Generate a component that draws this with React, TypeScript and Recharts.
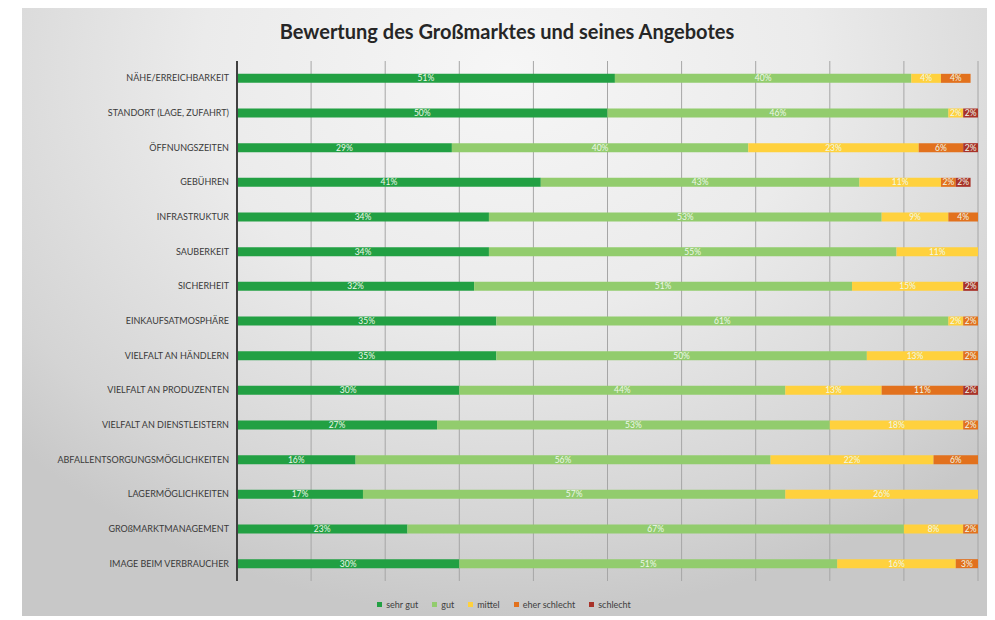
import React from "react";
import { BarChart, Bar, XAxis, YAxis, CartesianGrid, Legend, LabelList } from "recharts";

const categories = [
  "NÄHE/ERREICHBARKEIT",
  "STANDORT (LAGE, ZUFAHRT)",
  "ÖFFNUNGSZEITEN",
  "GEBÜHREN",
  "INFRASTRUKTUR",
  "SAUBERKEIT",
  "SICHERHEIT",
  "EINKAUFSATMOSPHÄRE",
  "VIELFALT AN HÄNDLERN",
  "VIELFALT AN PRODUZENTEN",
  "VIELFALT AN DIENSTLEISTERN",
  "ABFALLENTSORGUNGSMÖGLICHKEITEN",
  "LAGERMÖGLICHKEITEN",
  "GROßMARKTMANAGEMENT",
  "IMAGE BEIM VERBRAUCHER",
];

const sehrGut = [51, 50, 29, 41, 34, 34, 32, 35, 35, 30, 27, 16, 17, 23, 30];
const gut = [40, 46, 40, 43, 53, 55, 51, 61, 50, 44, 53, 56, 57, 67, 51];
const mittel = [4, 2, 23, 11, 9, 11, 15, 2, 13, 13, 18, 22, 26, 8, 16];
const eherSchlecht = [4, 0, 6, 2, 4, 0, 0, 2, 2, 11, 2, 6, 0, 2, 3];
const schlecht = [0, 2, 2, 2, 0, 0, 2, 0, 0, 2, 0, 0, 0, 0, 0];

const xTicks = [0, 10, 20, 30, 40, 50, 60, 70, 80, 90, 100];

const seriesNames = ["sehr gut", "gut", "mittel", "eher schlecht", "schlecht"];
const seriesKeys = ["sehrGut", "gut", "mittel", "eherSchlecht", "schlecht"];
const seriesColors = ["#22a043", "#92cc6d", "#ffd13d", "#e2711d", "#a83229"];

const data = categories.map((name, i) => ({
  name,
  sehrGut: sehrGut[i],
  gut: gut[i],
  mittel: mittel[i],
  eherSchlecht: eherSchlecht[i],
  schlecht: schlecht[i],
}));

const FONT = "Lato, 'Open Sans', sans-serif";

const renderLegend = () => (
  <div
    style={{
      display: "flex",
      justifyContent: "center",
      alignItems: "center",
      gap: 14,
      fontFamily: FONT,
      fontSize: 9,
      color: "#404040",
      height: 20,
      paddingLeft: 8,
    }}
  >
    {seriesNames.map((n, i) => (
      <span key={n} style={{ display: "flex", alignItems: "center" }}>
        <span
          style={{
            display: "inline-block",
            width: 5,
            height: 5,
            background: seriesColors[i],
            marginRight: 4,
          }}
        />
        {n}
      </span>
    ))}
  </div>
);

const CategoryTick = (props: any) => {
  const { x, y, payload } = props;
  return (
    <text
      x={x}
      y={y}
      dy={3}
      textAnchor="end"
      fontSize={9}
      fill="#3a3a3a"
      fontFamily={FONT}
    >
      {payload.value}
    </text>
  );
};

export default function App() {
  return (
    <div style={{ position: "relative", width: 987, height: 612, fontFamily: FONT }}>
      <div
        style={{
          position: "absolute",
          left: 14,
          top: 0,
          width: 970,
          height: 608,
          background:
            "radial-gradient(ellipse 70% 90% at 50% 10%, #f6f6f6 0%, #ebebeb 45%, #d4d4d4 85%, #c8c8c8 100%)",
        }}
      >
        <div
          style={{
            position: "absolute",
            left: 0,
            width: 970,
            top: 11,
            textAlign: "center",
            fontFamily: FONT,
            fontWeight: 700,
            fontSize: 20,
            color: "#262626",
          }}
        >
          Bewertung des Großmarktes und seines Angebotes
        </div>
        <BarChart
          width={970}
          height={608}
          data={data}
          layout="vertical"
          margin={{ top: 53, right: 14, bottom: 15, left: 0 }}
          barCategoryGap="63%"
        >
          <CartesianGrid horizontal={false} stroke="#a6a6a6" strokeWidth={1} />
          <XAxis type="number" domain={[0, 100]} ticks={xTicks} hide />
          <YAxis
            type="category"
            dataKey="name"
            width={215}
            tickLine={false}
            axisLine={{ stroke: "#404040", strokeWidth: 2 }}
            tick={<CategoryTick />}
            interval={0}
          />
          <Legend
            verticalAlign="bottom"
            height={20}
            content={renderLegend}
            wrapperStyle={{ bottom: 2 }}
          />
          {seriesKeys.map((k, i) => (
            <Bar
              key={k}
              dataKey={k}
              name={seriesNames[i]}
              stackId="a"
              fill={seriesColors[i]}
              isAnimationActive={false}
            >
              <LabelList
                dataKey={k}
                position="center"
                formatter={(v: number) => `${v}%`}
                style={{ fill: "#eef8ea", fontSize: 8.5, fontFamily: FONT }}
              />
            </Bar>
          ))}
        </BarChart>
      </div>
    </div>
  );
}
